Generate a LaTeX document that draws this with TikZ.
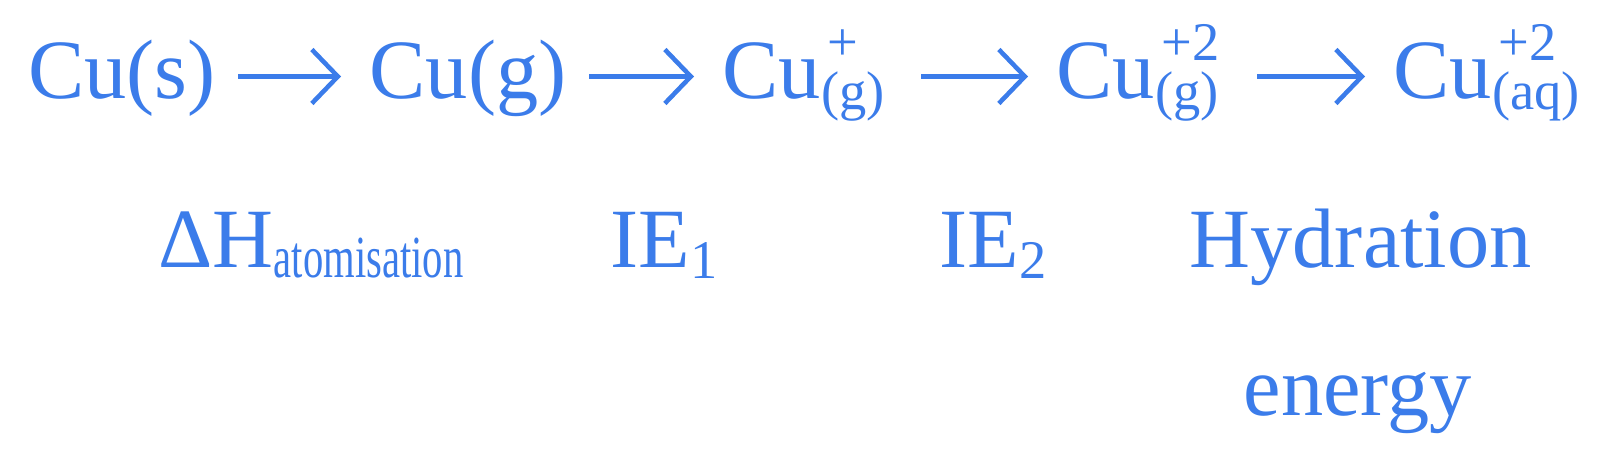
\documentclass[tikz,border=0pt]{standalone}
\usepackage{fontspec}
\setmainfont{Liberation Serif}
\usepackage{graphicx}
\usetikzlibrary{arrows.meta}

\definecolor{egblue}{RGB}{59,124,234}
\newcommand{\subsz}{\fontsize{15.5}{18}\selectfont}
\newcommand{\ionsupsub}[2]{\rlap{\raisebox{0.46em}{\subsz\kern0.12em #1}}\raisebox{-0.13em}{\subsz #2}}
\newcommand{\lowsub}[1]{\raisebox{-0.14em}{\subsz #1}}

\begin{document}
\begin{tikzpicture}[
    every node/.style={inner sep=0pt, text=egblue, font=\fontsize{24}{29}\selectfont},
    species/.style={anchor=base west},
    term/.style={anchor=base west},
    react/.style={draw=egblue, line width=1.3pt,
      -{Straight Barb[length=2.6mm, width=5.4mm, line width=1.3pt]},
      shorten <=0.22cm, shorten >=0.28cm}
  ]
  \useasboundingbox (0,0) rectangle (16,-4.65);

  % top row: the species
  \node[species] (cus) at (0.275,-0.99) {Cu(s)};
  \node[species] (cug) at (3.69,-0.99) {Cu(g)};
  \node[species] (cuplus) at (7.22,-0.99) {Cu\ionsupsub{+}{(g)}};
  \node[species] (cutwog) at (10.56,-0.99) {Cu\ionsupsub{+2}{(g)}};
  \node[species] (cuaq) at (13.93,-0.99) {Cu\ionsupsub{+2}{(aq)}};

  \draw[react] ([yshift=0.225cm]cus.base east) -- ([yshift=0.225cm]cug.base west);
  \draw[react] ([yshift=0.225cm]cug.base east) -- ([yshift=0.225cm]cuplus.base west);
  \draw[react, shorten <=0.36cm] ([yshift=0.225cm]cuplus.base east) -- ([yshift=0.225cm]cutwog.base west);
  \draw[react, shorten <=0.38cm] ([yshift=0.225cm]cutwog.base east) -- ([yshift=0.225cm]cuaq.base west);

  % bottom row: the energy terms
  \node[term] (hatom) at (1.58,-2.67) {ΔH\raisebox{-0.12em}{\scalebox{0.68}[1]{\fontsize{17}{20}\selectfont atomisation}}};
  \node[term] (ieone) at (6.10,-2.67) {IE\lowsub{1}};
  \node[term] (ietwo) at (9.39,-2.67) {IE\lowsub{2}};
  \node[term] (hyd) at (11.89,-2.67) {Hydration};
  \node[term] (energy) at (12.43,-4.15) {energy};
\end{tikzpicture}
\end{document}
